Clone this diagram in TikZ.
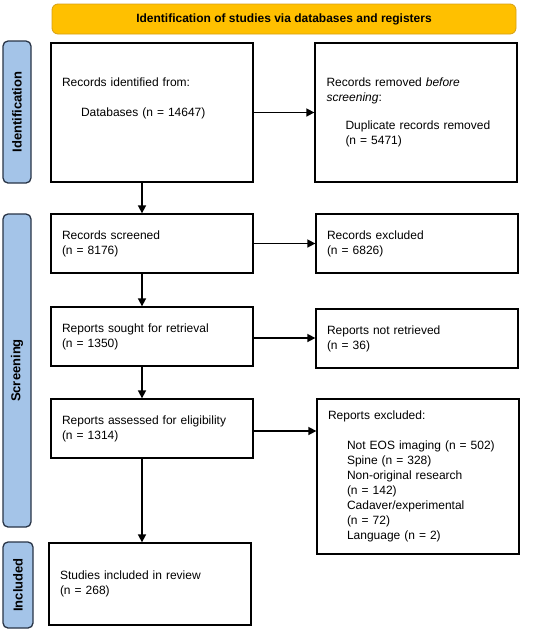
\documentclass[tikz,border=0pt]{standalone}
\usepackage{fontspec}
\setmainfont{Liberation Sans}
\usetikzlibrary{arrows.meta}
\definecolor{gold}{RGB}{255,192,0}
\definecolor{goldline}{RGB}{214,160,20}
\definecolor{sidefill}{RGB}{164,196,232}
\definecolor{sideline}{RGB}{40,52,70}
\tikzset{
  box/.style={draw=black, line width=1.3pt, fill=white, align=left,
    font=\fontsize{12}{15}\selectfont, inner xsep=11pt, inner ysep=0pt},
  banner/.style={draw=goldline, fill=gold, rounded corners=6pt, line width=0.8pt,
    font=\bfseries\fontsize{12}{14}\selectfont},
  side/.style={draw=sideline, fill=sidefill, rounded corners=5pt, line width=1.3pt,
    font=\bfseries\fontsize{13}{14}\selectfont},
  arr/.style={line width=1.6pt, -{Triangle[length=8pt,width=8pt]}},
}
\newcommand{\ind}{\hspace*{19pt}}
\begin{document}
\begin{tikzpicture}[x=1pt,y=-1pt]
\useasboundingbox (0,0) rectangle (550,630);
% banner
\node[banner, minimum width=464pt, minimum height=30pt] (ban) at (284,19)
  {Identification of studies via databases and registers};
% side bars
\node[side, minimum width=142pt, minimum height=28pt, rotate=90] (sid) at (17,112)
  {Identification};
\node[side, minimum width=313pt, minimum height=28pt, rotate=90] (ssc) at (17,370.5)
  {Screening};
\node[side, minimum width=86pt, minimum height=30pt, rotate=90] (sin) at (18,585)
  {Included};
% boxes
\node[box, minimum width=202pt, minimum height=139pt, text width=180pt] (ident) at (152,112.5)
  {Records identified from:\\[15pt]\ind Databases (n = 14647)\\[15pt]\mbox{}};
\node[box, minimum width=202pt, minimum height=139pt, text width=179pt] (removed) at (416,112.5)
  {Records removed \textit{before}\\\textit{screening}:\\[13pt]\ind Duplicate records removed\\\ind (n = 5471)};
\node[box, minimum width=202pt, minimum height=59pt, text width=180pt] (screened) at (152,243.5)
  {Records screened\\(n = 8176)};
\node[box, minimum width=202pt, minimum height=59pt, text width=180pt] (excluded) at (417,243.5)
  {Records excluded\\(n = 6826)};
\node[box, minimum width=202pt, minimum height=59pt, text width=180pt] (sought) at (152,336.5)
  {Reports sought for retrieval\\(n = 1350)};
\node[box, minimum width=202pt, minimum height=59pt, text width=180pt] (notret) at (417,338.5)
  {Reports not retrieved\\(n = 36)};
\node[box, minimum width=202pt, minimum height=59pt, text width=180pt] (assessed) at (152,428.5)
  {Reports assessed for eligibility\\(n = 1314)};
\node[box, minimum width=202pt, minimum height=155pt, text width=180pt] (repexcl) at (418,476.5)
  {Reports excluded:\\[15pt]
   \ind Not EOS imaging (n = 502)\\
   \ind Spine (n = 328)\\
   \ind Non-original research\\
   \ind (n = 142)\\
   \ind Cadaver/experimental\\
   \ind (n = 72)\\
   \ind Language (n = 2)};
\node[box, minimum width=202pt, minimum height=82pt, text width=180pt] (included) at (150,584)
  {Studies included in review\\(n = 268)};
% connectors
\coordinate (ax) at (142,0);
\coordinate (s3) at ([yshift=-1.5pt]sought.east);
\coordinate (s4) at ([yshift=-2.5pt]assessed.east);
\draw[arr] (ident.south -| ax) -- (screened.north -| ax);
\draw[arr] (screened.south -| ax) -- (sought.north -| ax);
\draw[arr] (sought.south -| ax) -- (assessed.north -| ax);
\draw[arr] (assessed.south -| ax) -- (included.north -| ax);
\draw[arr] (ident.east) -- (removed.west |- ident.east);
\draw[arr] (screened.east) -- (excluded.west |- screened.east);
\draw[arr] (s3) -- (notret.west |- s3);
\draw[arr] (s4) -- (repexcl.west |- s4);
\end{tikzpicture}
\end{document}
